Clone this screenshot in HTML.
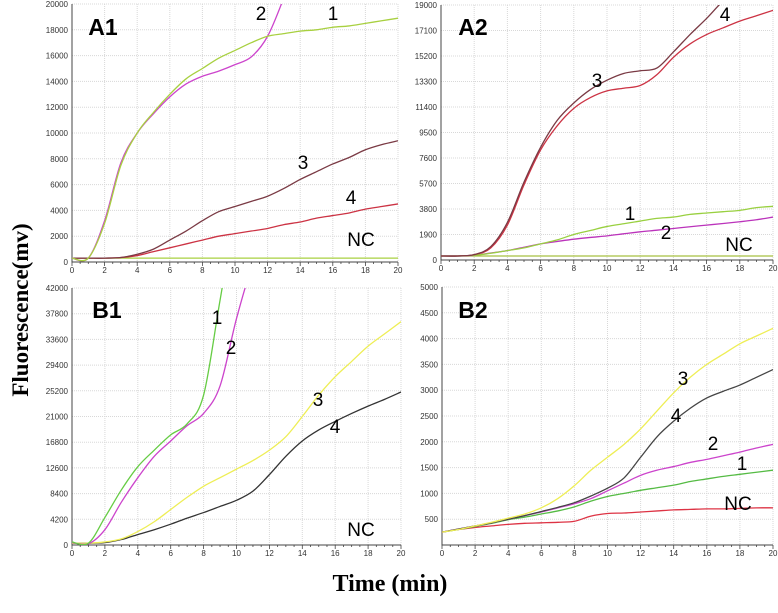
<!DOCTYPE html>
<html><head><meta charset="utf-8">
<style>
html,body{margin:0;padding:0;background:#fff;}
svg{display:block;font-family:"Liberation Sans",sans-serif;}
.tick{font-size:8px;fill:#333;font-family:"Liberation Sans",sans-serif;}
.cl{font-size:19px;fill:#000;}
.pl{font-size:23px;font-weight:bold;fill:#000;}
</style></head>
<body>
<svg id="chart" width="778" height="613" viewBox="0 0 778 613">
<text transform="translate(28,310) rotate(-90)" text-anchor="middle" style="font-family:'Liberation Serif',serif;font-weight:bold;font-size:23px">Fluorescence(mv)</text>
<text x="390" y="591" text-anchor="middle" style="font-family:'Liberation Serif',serif;font-weight:bold;font-size:24px">Time (min)</text>
</svg>
<script>
const xs=[0,1,2,3,4,5,6,7,8,9,10,11,12,13,14,15,16,17,18,19,20];
// Panel A1
const a1Ticks=[0,2000,4000,6000,8000,10000,12000,14000,16000,18000,20000];
const a1c1=[300,300,3000,7500,10000,11600,13000,14200,15000,15800,16400,17000,17500,17700,17900,18000,18200,18300,18500,18700,18900];
const a1c2=[300,300,3200,7700,10000,11500,12800,13800,14400,14800,15300,15900,17500,20500,24000,27000,30000,33000,36000,39000,42000];
const a1c3=[300,300,300,350,600,1000,1700,2400,3200,3900,4300,4700,5100,5700,6400,7000,7600,8100,8700,9100,9400];
const a1c4=[300,300,300,350,500,800,1100,1400,1700,2000,2200,2400,2600,2900,3100,3400,3600,3800,4100,4300,4500];
const a1nc=[300,300,300,300,300,300,300,300,300,300,300,300,300,300,300,300,300,300,300,300,300];
// Panel A2
const a2Ticks=[0,1900,3800,5700,7600,9500,11400,13300,15200,17100,19000];
const a2c1=[300,300,350,500,700,900,1200,1500,1900,2200,2500,2700,2900,3100,3200,3400,3500,3600,3700,3900,4000];
const a2c2=[300,300,350,520,700,950,1200,1380,1550,1680,1800,1950,2100,2220,2350,2480,2600,2720,2850,3000,3200];
const a2c3=[300,300,400,1000,2800,5800,8400,10400,11700,12700,13400,13900,14100,14300,15500,16800,18000,19300,20200,21000,21800];
const a2c4=[300,300,400,900,2600,5600,8200,10000,11300,12100,12600,12800,13000,13800,15100,16100,16800,17300,17800,18200,18600];
const a2nc=[300,300,300,300,300,300,300,300,300,300,300,300,300,300,300,300,300,300,300,300,300];
// Panel B1
const b1Ticks=[0,4200,8400,12600,16800,21000,25200,29400,33600,37800,42000];
const b1c1=[500,300,4500,9000,12800,15500,18000,19800,24500,40000,55000,60000,65000,70000,75000,80000,85000,90000,95000,100000,105000];
const b1c2=[400,200,2500,7000,11000,14500,17000,19500,21500,26000,37000,46000,52000,58000,64000,70000,76000,82000,88000,94000,100000];
const b1c3=[300,300,500,1000,2200,3800,5800,7800,9600,11000,12400,13800,15500,17700,21000,24500,27500,30000,32500,34500,36500];
const b1c4=[300,300,400,900,1700,2500,3400,4400,5300,6300,7300,8800,11500,14500,17000,18800,20200,21500,22700,23800,25000];
// Panel B2
const b2Ticks=[500,1000,1500,2000,2500,3000,3500,4000,4500,5000];
const b2c1=[250,300,360,420,490,540,600,660,740,850,940,1000,1060,1110,1160,1230,1280,1330,1370,1410,1450];
const b2c2=[250,310,370,430,500,570,640,720,800,900,1050,1200,1350,1450,1520,1600,1660,1730,1800,1880,1950];
const b2c3=[250,300,370,440,520,600,720,900,1150,1450,1700,1950,2250,2600,2950,3250,3500,3700,3900,4050,4200];
const b2c4=[250,310,370,430,500,570,650,730,820,950,1100,1300,1700,2100,2400,2650,2850,2980,3100,3250,3400];
const b2nc=[250,300,340,370,400,420,430,440,460,560,610,620,640,660,680,690,700,700,710,720,720];

const NS='http://www.w3.org/2000/svg';
const svg=document.getElementById('chart');
function mk(tag,attrs,parent){const e=document.createElementNS(NS,tag);for(const k in attrs)e.setAttribute(k,attrs[k]);(parent||svg).appendChild(e);return e;}

function panel(id,L,R,T,B,ymax,ticks,series,labels,title,tx,ty){
  const g=mk('g',{});
  
  
  const sx=v=>L+(v/20)*(R-L);
  const sy=v=>B-(v/ymax)*(B-T);
  // grid
  for(let i=2;i<=20;i+=2){const l=mk('line',{x1:sx(i),x2:sx(i),y1:T,y2:B,stroke:'#d8d8d8','stroke-dasharray':'1,1','stroke-width':1},g);
    }
  ticks.forEach(t=>{const l=mk('line',{x1:L,x2:R,y1:sy(t),y2:sy(t),stroke:'#d8d8d8','stroke-dasharray':'1,1','stroke-width':1},g);
    
    const tl=mk('text',{x:L-4,y:sy(t)+3,'text-anchor':'end',class:'tick'},g);tl.textContent=t;
    });
  // axes
  const ax=mk('path',{d:`M${L},${T} V${B} H${R}`,fill:'none',stroke:'#444','stroke-width':1},g);
  
  for(let i=0;i<=20;i+=0.5){mk('line',{x1:sx(i),x2:sx(i),y1:B,y2:B+(i%2===0?4:2),stroke:'#444','stroke-width':0.8},g);}
  for(let i=0;i<=20;i+=2){const tl=mk('text',{x:sx(i),y:B+11,'text-anchor':'middle',class:'tick'},g);tl.textContent=i;
    }
  // clip
  const cp=mk('clipPath',{id:'clip-'+id},g);mk('rect',{x:L,y:T,width:R-L,height:B-T},cp);
  series.forEach(s=>{
    const pts=xs.map((x,i)=>[sx(x),sy(s.v[i])]);
    let d=`M${pts[0][0]},${pts[0][1]}`;
    for(let i=0;i<pts.length-1;i++){
      const p0=pts[Math.max(i-1,0)],p1=pts[i],p2=pts[i+1],p3=pts[Math.min(i+2,pts.length-1)];
      const c1=[p1[0]+(p2[0]-p0[0])/6,p1[1]+(p2[1]-p0[1])/6],c2=[p2[0]-(p3[0]-p1[0])/6,p2[1]-(p3[1]-p1[1])/6];
      d+=` C${c1[0]},${c1[1]} ${c2[0]},${c2[1]} ${p2[0]},${p2[1]}`;
    }
    const p=mk('path',{d:d,fill:'none',stroke:s.c,'stroke-width':1.3,'clip-path':`url(#clip-${id})`},g);
    
    
  });
  labels.forEach(l=>{const t=mk('text',{x:l[1],y:l[2],'text-anchor':'middle',class:'cl'},g);t.textContent=l[0];
    });
  const pt=mk('text',{x:tx,y:ty,'text-anchor':'middle',class:'pl'},g);pt.textContent=title;
  
}

panel('panel-a1',72,398,4,262,20000,a1Ticks,[
 {n:'a1-nc',v:a1nc,c:'#a8d040'},{n:'a1-curve-4',v:a1c4,c:'#cc3344'},{n:'a1-curve-3',v:a1c3,c:'#7a3a44'},
 {n:'a1-curve-2',v:a1c2,c:'#cc44cc'},{n:'a1-curve-1',v:a1c1,c:'#a8d040'}],
 [['2',261,20],['1',333,20],['3',303,169],['4',351,204],['NC',361,246]],'A1',103,35);
panel('panel-a2',441,773,5,260,19000,a2Ticks,[
 {n:'a2-nc',v:a2nc,c:'#a8c040'},{n:'a2-curve-2',v:a2c2,c:'#bb33bb'},{n:'a2-curve-1',v:a2c1,c:'#99d040'},
 {n:'a2-curve-4',v:a2c4,c:'#cc3344'},{n:'a2-curve-3',v:a2c3,c:'#7a3a44'}],
 [['3',597,87],['4',725,21],['1',630,220],['2',666,239],['NC',739,251]],'A2',473,35);
panel('panel-b1',72,401,288,545,42000,b1Ticks,[
 {n:'b1-curve-4',v:b1c4,c:'#333333'},{n:'b1-curve-3',v:b1c3,c:'#eeee55'},
 {n:'b1-curve-2',v:b1c2,c:'#cc44cc'},{n:'b1-curve-1',v:b1c1,c:'#66cc44'}],
 [['1',217,324],['2',231,354],['3',318,406],['4',335,433],['NC',361,536]],'B1',107,318);
panel('panel-b2',442,773,287,545,5000,b2Ticks,[
 {n:'b2-nc',v:b2nc,c:'#dd3344'},{n:'b2-curve-1',v:b2c1,c:'#55bb44'},{n:'b2-curve-2',v:b2c2,c:'#cc44cc'},
 {n:'b2-curve-4',v:b2c4,c:'#444444'},{n:'b2-curve-3',v:b2c3,c:'#eeee55'}],
 [['3',683,385],['4',676,422],['2',713,450],['1',742,470],['NC',738,510]],'B2',473,318);
</script>
</body></html>
